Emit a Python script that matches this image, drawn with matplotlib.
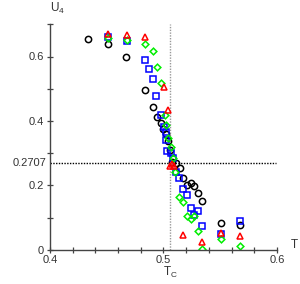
import numpy as np
import matplotlib
matplotlib.use('Agg')
import matplotlib.pyplot as plt

plt.rcParams['font.family'] = ['Liberation Sans', 'DejaVu Sans']

# data ----------------------------------------
t_circ = [0.4337, 0.4507, 0.4674, 0.4840, 0.4905, 0.4940, 0.4974, 0.5000, 0.5022,
          0.5040, 0.5057, 0.5075, 0.5110, 0.5145, 0.5172, 0.5204, 0.5240, 0.5271,
          0.5307, 0.5339, 0.5504, 0.5670]
u_circ = [0.654, 0.639, 0.597, 0.496, 0.442, 0.411, 0.393, 0.375, 0.359,
          0.338, 0.310, 0.272, 0.269, 0.255, 0.223, 0.202, 0.206, 0.198,
          0.175, 0.150, 0.084, 0.078]

t_sq = [0.4508, 0.4676, 0.4840, 0.4875, 0.4905, 0.4937, 0.4975, 0.5003, 0.5022,
        0.5026, 0.5035, 0.5062, 0.5081, 0.5110, 0.5139, 0.5169, 0.5204, 0.5238,
        0.5271, 0.5307, 0.5339, 0.5504, 0.5674]
u_sq = [0.661, 0.649, 0.589, 0.560, 0.530, 0.476, 0.419, 0.380, 0.364,
        0.341, 0.308, 0.301, 0.285, 0.241, 0.222, 0.187, 0.169, 0.128,
        0.109, 0.119, 0.074, 0.049, 0.090]

t_dia = [0.4508, 0.4676, 0.4840, 0.4907, 0.4940, 0.4974, 0.5011, 0.5025, 0.5042,
         0.5063, 0.5081, 0.5101, 0.5139, 0.5169, 0.5204, 0.5238, 0.5269, 0.5307,
         0.5341, 0.5504, 0.5674]
u_dia = [0.657, 0.651, 0.639, 0.617, 0.568, 0.519, 0.419, 0.387, 0.346,
         0.319, 0.285, 0.240, 0.165, 0.148, 0.105, 0.095, 0.105, 0.057,
         0.002, 0.032, 0.010]

t_tri = [0.4508, 0.4676, 0.4840, 0.5004, 0.5040, 0.5053, 0.5075, 0.5093,
         0.5169, 0.5341, 0.5504, 0.5670]
u_tri = [0.670, 0.667, 0.660, 0.504, 0.433, 0.260, 0.266, 0.261,
         0.047, 0.025, 0.053, 0.043]

Tc = 0.5057
U_star = 0.2707

# plot -------------------
fig = plt.figure(figsize=(3.0, 2.84), dpi=100)
ax = fig.add_axes([50/300, 34.3/284, 227/300, 225.4/284])
axc = '#444444'

ax.plot([Tc, Tc], [0, 0.7], ls=(0, (1, 1)), color='#999999', lw=1.0, zorder=1)
ax.plot([0.4, 0.599], [U_star, U_star], ls=(0, (1, 1)), color='black', lw=1.0, zorder=1)

mk = dict(ls='none', mfc='none', mew=1.1)
ax.plot(t_circ, u_circ, marker='o', mec='black', ms=4.5, **mk)
ax.plot(t_sq, u_sq, marker='s', mec='#0000ff', ms=4.5, **mk)
ax.plot(t_dia, u_dia, marker='D', mec='#00ee00', ms=3.4, **mk)
ax.plot(t_tri, u_tri, marker='^', mec='#ff0000', ms=4.8, **mk)

ax.set_xlim(0.4, 0.6)
ax.set_ylim(0, 0.7)
ax.set_xticks([0.4, 0.5, 0.6])
ax.set_xticklabels(['0.4', '0.5', '0.6'])
ax.set_xticks(np.arange(0.4, 0.601, 0.02), minor=True)
ax.set_yticks([0, 0.2, 0.4, 0.6])
ax.set_yticklabels(['0', '0.2', '0.4', '0.6'])
ax.set_yticks([0.1, 0.3, 0.5, 0.7], minor=True)

for s in ['top', 'right']:
    ax.spines[s].set_visible(False)
for s in ['left', 'bottom']:
    ax.spines[s].set_color(axc)
    ax.spines[s].set_linewidth(1.0)

ax.tick_params(which='both', direction='inout', length=5, width=0.9, color=axc,
               labelcolor='#333333', labelsize=8)
ax.tick_params(axis='y', pad=2)
ax.tick_params(axis='x', pad=1)

ax.text(0.3965, U_star, '0.2707', ha='right', va='center', fontsize=8,
        color='#333333', transform=ax.transData)
ax.text(50/300, 1 - 8/284, 'U$_\\mathregular{4}$', ha='left', va='center', fontsize=8.5,
        color='#333333', transform=fig.transFigure)
ax.text(294/300, 1 - 245/284, 'T', ha='center', va='center', fontsize=8.5,
        color='#333333', transform=fig.transFigure)
ax.text(Tc, -0.072, 'T$_\\mathregular{C}$', ha='center', va='center', fontsize=8.5,
        color='#333333', transform=ax.transData, clip_on=False)

fig.savefig('out.png', dpi=100)
